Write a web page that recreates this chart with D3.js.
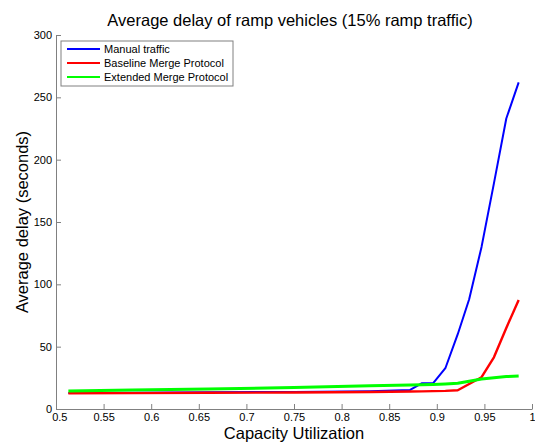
<!DOCTYPE html>
<html>
<head>
<meta charset="utf-8">
<script src="https://cdn.jsdelivr.net/npm/d3@7"></script>
<style>
  body { margin: 0; background: #fff; }
  svg { display: block; font-family: "Liberation Sans", Arial, sans-serif; }
</style>
</head>
<body>
<div id="chart"></div>
<script>
"use strict";

var capacity = [0.513, 0.58, 0.66, 0.75, 0.83, 0.872, 0.884, 0.896, 0.909, 0.922, 0.934, 0.947, 0.960, 0.973, 0.986];
var manualTraffic = [12.9, 13.0, 13.4, 13.7, 14.3, 15.3, 20.6, 20.6, 32.7, 60, 88, 130, 181, 233, 262];
var baselineMerge = [12.6, 12.7, 13.0, 13.2, 13.6, 14.0, 14.1, 14.3, 14.5, 15.0, 20, 25.5, 41.5, 65, 87.5];
var extendedMerge = [14.4, 15.2, 16.0, 17.2, 18.6, 19.2, 19.4, 19.6, 20.0, 20.6, 22.3, 24, 25, 26, 26.5];

var xTicks = [0.5, 0.55, 0.6, 0.65, 0.7, 0.75, 0.8, 0.85, 0.9, 0.95, 1];
var yTicks = [0, 50, 100, 150, 200, 250, 300];

var seriesNames = ["Manual traffic", "Baseline Merge Protocol", "Extended Merge Protocol"];
var seriesColors = ["#0000ff", "#ff0000", "#00ff00"];
var seriesWidths = [2, 2.4, 3];
var seriesValues = [manualTraffic, baselineMerge, extendedMerge];

var fWidth = 535;
var fHeight = 444;
var fLeft = 56;
var fRight = 532;
var fTop = 35;
var fBottom = 409;
var sAxisColor = "#808080";

var svg = d3.select("#chart").append("svg")
  .attr("width", fWidth)
  .attr("height", fHeight);

var scaleX = d3.scaleLinear().domain([0.5, 1]).range([fLeft, fRight]);
var scaleY = d3.scaleLinear().domain([0, 300]).range([fBottom, fTop]);

// x axis, ticks pointing inward like matlab
var gX = svg.append("g")
  .attr("transform", "translate(0," + fBottom + ")")
  .call(d3.axisTop(scaleX).tickValues(xTicks).tickSizeInner(5).tickSizeOuter(0).tickFormat(d3.format("")));
gX.selectAll("path, line").attr("stroke", sAxisColor);
gX.selectAll("text")
  .attr("y", 4)
  .attr("dy", "0.71em")
  .attr("fill", "#000")
  .style("font-size", "11px");

var gY = svg.append("g")
  .attr("transform", "translate(" + fLeft + ",0)")
  .call(d3.axisRight(scaleY).tickValues(yTicks).tickSizeInner(5).tickSizeOuter(0));
gY.selectAll("path, line").attr("stroke", sAxisColor);
gY.selectAll("text")
  .attr("x", -4)
  .attr("text-anchor", "end")
  .attr("fill", "#000")
  .style("font-size", "11px");
svg.selectAll(".domain").attr("stroke-width", 1);
gX.select(".tick text").attr("dx", "0.3em");

// series lines
var line = d3.line()
  .x(function(d, i) { return scaleX(capacity[i]); })
  .y(function(d) { return scaleY(d); });

seriesValues.forEach(function(aValues, i) {
  svg.append("path")
    .datum(aValues)
    .attr("fill", "none")
    .attr("stroke", seriesColors[i])
    .attr("stroke-width", seriesWidths[i])
    .attr("stroke-linejoin", "round")
    .attr("d", line);
});

// titles
svg.append("text")
  .attr("x", 290)
  .attr("y", 26)
  .attr("text-anchor", "middle")
  .style("font-size", "16.5px")
  .text("Average delay of ramp vehicles (15% ramp traffic)");

svg.append("text")
  .attr("x", 294)
  .attr("y", 439)
  .attr("text-anchor", "middle")
  .style("font-size", "16.5px")
  .text("Capacity Utilization");

svg.append("text")
  .attr("transform", "translate(28," + ((fTop + fBottom) / 2) + ") rotate(-90)")
  .attr("text-anchor", "middle")
  .style("font-size", "16.5px")
  .text("Average delay (seconds)");

// legend
var gLegend = svg.append("g").attr("transform", "translate(61,41)");
gLegend.append("rect")
  .attr("width", 172)
  .attr("height", 45)
  .attr("fill", "#fff")
  .attr("stroke", sAxisColor);

seriesNames.forEach(function(sName, i) {
  var fY = 8 + i * 14;
  gLegend.append("line")
    .attr("x1", 6).attr("x2", 39)
    .attr("y1", fY).attr("y2", fY)
    .attr("stroke", seriesColors[i])
    .attr("stroke-width", 2);
  gLegend.append("text")
    .attr("x", 43)
    .attr("y", fY)
    .attr("dy", "0.35em")
    .style("font-size", "11px")
    .text(sName);
});
</script>
</body>
</html>
